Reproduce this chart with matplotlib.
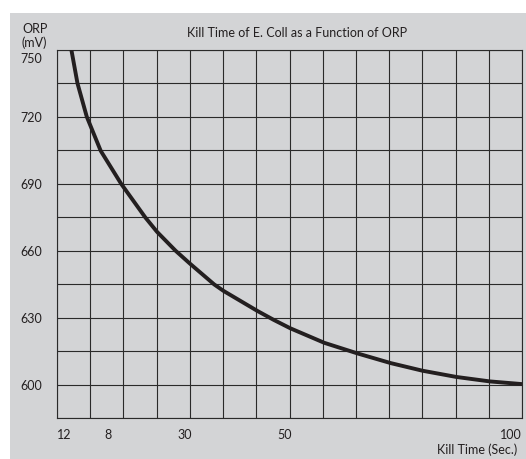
import matplotlib.pyplot as plt
from matplotlib.patches import Rectangle
import numpy as np

plt.rcParams['font.family'] = ['Lato', 'DejaVu Sans']

# curve
kill_time = [3.1, 4.4, 6.4, 9.4, 13.8, 19.0, 21.5, 25.5, 28.6, 33.8, 35.8,
             43.1, 46.6, 50.2, 57.5, 64.7, 71.8, 78.6, 85.9, 93.1, 100.0]
orp = [750, 735.1, 720.1, 704.8, 690.0, 674.9, 668.5, 660.0, 654.2, 644.9, 642.0,
       633.0, 629.0, 625.2, 618.7, 613.9, 609.6, 606.2, 603.4, 601.4, 600.2]

x_tick_pos = [0, 11, 27.5, 49, 100]
x_tick_labels = ['12', '8', '30', '50', '100']
y_ticks = [600, 630, 660, 690, 720]
y_top = 750

bg = '#d3d4d6'
ink = '#231f20'

fig = plt.figure(figsize=(5.26, 4.59), dpi=100, facecolor='white')
fig.patches.append(Rectangle((10 / 526, 0), 1, 1 - 13 / 459, transform=fig.transFigure,
                             facecolor=bg, edgecolor='none', zorder=-1))

ax = fig.add_axes([57 / 526, 41 / 459, 465 / 526, 368 / 459])
ax.set_facecolor(bg)
ax.plot(kill_time, orp, color=ink, lw=2.8, solid_capstyle='butt', zorder=3)

ax.set_xlim(0, 100)
ax.set_ylim(585, 750)
ax.xaxis.remove_overlapping_locs = False
ax.yaxis.remove_overlapping_locs = False
ax.set_xticks(np.arange(15) * 100 / 14, minor=True)
ax.set_yticks(np.arange(585, 751, 15), minor=True)
ax.grid(which='minor', color='#2a2a2a', lw=0.8)
ax.grid(which='major', visible=False)
ax.tick_params(which='both', length=0)

ax.set_xticks(x_tick_pos, x_tick_labels)
ax.set_yticks(y_ticks, [str(v) for v in y_ticks])
ax.tick_params(axis='x', pad=8, labelsize=9, labelcolor=ink)
ax.tick_params(axis='y', pad=11, labelsize=9, labelcolor=ink)
xl = ax.get_xticklabels()
xl[0].set_ha('left')
xl[-1].set_ha('right')

# the top label sits a bit below its line in the original
ax.annotate(str(y_top), xy=(0, y_top), xycoords=('axes fraction', 'data'),
            xytext=(-11, -6.5), textcoords='offset points', ha='right', va='center',
            fontsize=9, color=ink)

for s in ax.spines.values():
    s.set_color('#2a2a2a')
    s.set_linewidth(0.8)

fig.text(297 / 526, 1 - 33 / 459, 'Kill Time of E. Coll as a Function of ORP',
         ha='center', va='center', fontsize=9, color=ink)
fig.text(22 / 526, 1 - 36 / 459, 'ORP\n(mV)', ha='left', va='center',
         fontsize=9, color=ink, linespacing=1.05)
fig.text(517 / 526, 9 / 459, 'Kill Time (Sec.)', ha='right', va='center',
         fontsize=9, color=ink)

fig.savefig('out.png', dpi=100, facecolor='white')
